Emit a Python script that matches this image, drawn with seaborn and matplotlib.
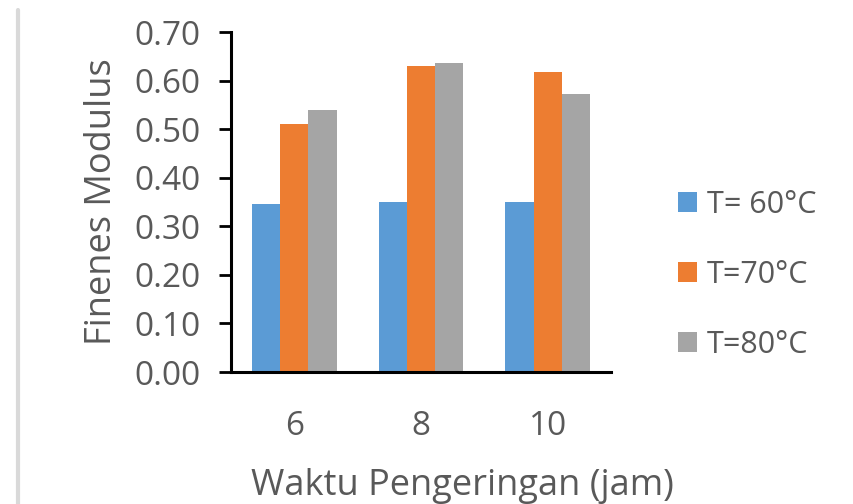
import matplotlib
matplotlib.use("Agg")
import matplotlib.pyplot as plt
from matplotlib.lines import Line2D
import seaborn as sns
import pandas as pd

# Drying time (hours) and fineness modulus per drying temperature
waktu = ["6", "8", "10"]
suhu = ["T= 60°C", "T=70°C", "T=80°C"]
t60 = [0.345, 0.350, 0.350]
t70 = [0.510, 0.630, 0.617]
t80 = [0.539, 0.637, 0.572]
y_ticks = [0.00, 0.10, 0.20, 0.30, 0.40, 0.50, 0.60, 0.70]

colors = ["#5B9BD5", "#ED7D31", "#A5A5A5"]
text_color = "#595959"

rows = []
for label, vals in zip(suhu, [t60, t70, t80]):
    for w, v in zip(waktu, vals):
        rows.append({"Waktu": w, "Suhu": label, "FM": v})
df = pd.DataFrame(rows)

sns.set_theme(style="white")
plt.rcParams["font.family"] = ["Open Sans", "DejaVu Sans"]

fig = plt.figure(figsize=(8.54, 5.04), dpi=100)
ax = fig.add_axes([0.2705, 0.2619, 0.445, 0.6746])

sns.barplot(data=df, x="Waktu", y="FM", hue="Suhu", order=waktu,
            hue_order=suhu, palette=colors, width=0.667, gap=0,
            saturation=1, linewidth=0, errorbar=None, ax=ax)

ax.set_xlim(-0.5, 2.5)
ax.set_ylim(0, 0.70)
ax.set_yticks(y_ticks)
ax.set_yticklabels([f"{t:.2f}" for t in y_ticks])

for side in ["top", "right"]:
    ax.spines[side].set_visible(False)
for side in ["left", "bottom"]:
    ax.spines[side].set_color("black")
    ax.spines[side].set_linewidth(2.2)

ax.tick_params(axis="y", which="major", direction="out", length=9, width=2,
               color="black", labelsize=24, labelcolor=text_color, pad=13, left=True)
ax.tick_params(axis="x", length=0, labelsize=24, labelcolor=text_color, pad=27)

# x title is centred under the whole chart area (plot + legend)
ax.set_xlabel("Waktu Pengeringan (jam)", fontsize=26, color=text_color, labelpad=18)
ax.xaxis.label.set_x(0.608)
ax.set_ylabel("Finenes Modulus", fontsize=26, color=text_color, labelpad=10)

handles, labels = ax.get_legend_handles_labels()
ax.legend(handles, labels, loc="center left", bbox_to_anchor=(0.776, 0.455),
          bbox_transform=fig.transFigure, frameon=False, fontsize=22,
          labelcolor=text_color, handlelength=0.62, handleheight=0.62,
          handletextpad=0.33, labelspacing=1.31, borderpad=0)

# thin page border on the left
fig.add_artist(Line2D([0.0205, 0.0205], [0.0, 0.98], color="#D9D9D9",
                      linewidth=3, transform=fig.transFigure))

fig.savefig("out.png", dpi=100, facecolor="white")
